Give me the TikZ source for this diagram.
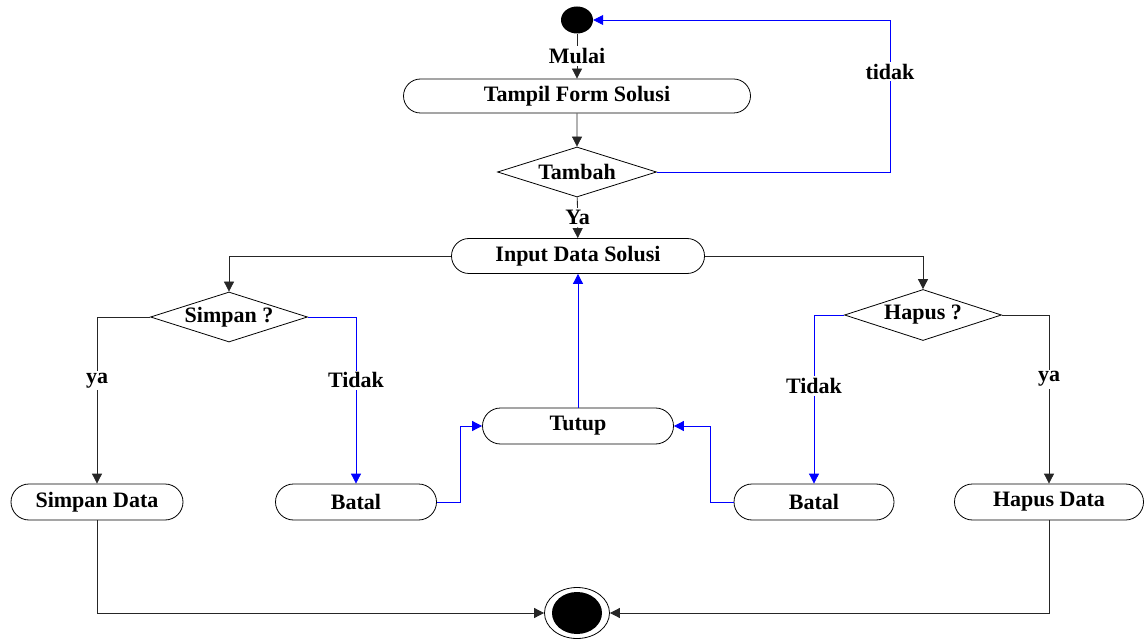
\documentclass[tikz,border=0pt]{standalone}
\usepackage{fontspec}
\setmainfont{Liberation Serif}
\usetikzlibrary{arrows.meta,shapes.geometric,shapes.misc}

\begin{document}
\begin{tikzpicture}[x=1pt,y=-1pt,
  every node/.style={font=\fontsize{22}{25}\selectfont\bfseries},
  act/.style={draw=black, line width=0.8pt, rounded rectangle, inner sep=0pt, minimum height=36pt},
  dec/.style={draw=black, line width=0.8pt, diamond, shape aspect=3.2, inner sep=0pt},
  lbl/.style={fill=white, inner sep=2pt},
  arr/.style={draw=black!85, line width=0.8pt, -{Triangle[length=10pt,width=10pt]}},
  barr/.style={draw=blue, line width=0.8pt, -{Triangle[length=10pt,width=10pt]}}]

  \useasboundingbox (0,0) rectangle (1144,639);

  % states
  \node[ellipse, fill=black, minimum width=32pt, minimum height=27pt, inner sep=0pt] (start) at (577,20) {};
  \node[act, minimum width=347pt, minimum height=34pt] (tampil) at (577,96) {Tampil Form Solusi};
  \node[dec, minimum width=159pt, minimum height=50pt] (tambah) at (577,172) {Tambah};
  \node[act, minimum width=253pt, minimum height=35pt] (input) at (578,256) {Input Data Solusi};
  \node[dec, minimum width=157pt, minimum height=50pt] (simpan) at (229,317) {Simpan ?};
  \node[dec, minimum width=157pt, minimum height=51pt] (hapus) at (923,315) {Hapus ?};
  \node[act, minimum width=191pt] (tutup) at (578,426) {Tutup};
  \node[act, minimum width=172pt] (simpandata) at (97,502) {Simpan Data};
  \node[act, minimum width=161pt] (batalA) at (356,502) {Batal};
  \node[act, minimum width=160pt] (batalB) at (814,502) {Batal};
  \node[act, minimum width=189pt] (hapusdata) at (1049,502) {Hapus Data};
  \node[ellipse, draw=black, line width=0.8pt, minimum width=65pt, minimum height=51pt, inner sep=0pt] (end) at (577,613) {};
  \node[ellipse, fill=black, minimum width=50pt, minimum height=42pt, inner sep=0pt] (endcore) at (577,613) {};

  % main flow
  \draw[arr] (start) -- node[lbl]{Mulai} (tampil);
  \draw[arr] (tampil) -- (tambah);
  \draw[arr] (tambah) -- node[lbl]{Ya} (input);
  \coordinate (loopA) at (890,172);
  \coordinate (loopB) at (890,20);
  \draw[barr] (tambah.east) -- (loopA) -- node[lbl, pos=0.66]{tidak} (loopB) -- (start.east);

  \draw[arr] (input.west) -| (simpan.north);
  \draw[arr] (input.east) -| (hapus.north);

  % save branch
  \draw[arr] (simpan.west) -| node[lbl, pos=0.69]{ya} (simpandata.north);
  \draw[barr] (simpan.east) -| node[lbl, pos=0.69]{Tidak} (batalA.north);

  % delete branch
  \draw[barr] (hapus.west) -| node[lbl, pos=0.71]{Tidak} (batalB.north);
  \draw[arr] (hapus.east) -| node[lbl, pos=0.69]{ya} (hapusdata.north);

  % cancel paths to close
  \draw[barr] (batalA.east) -- ++(23,0) |- (tutup.west);
  \draw[barr] (batalB.west) -- ++(-23,0) |- (tutup.east);
  \draw[barr] (tutup.north) -- (input.south);

  % to final state
  \draw[arr] (simpandata.south) |- (end.west);
  \draw[arr] (hapusdata.south) |- (end.east);
\end{tikzpicture}
\end{document}
